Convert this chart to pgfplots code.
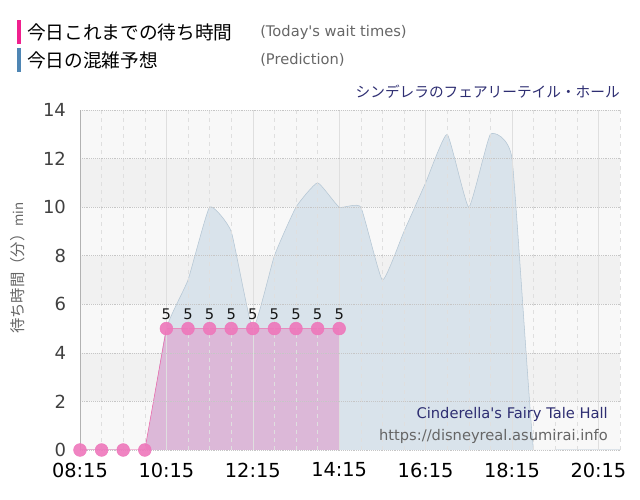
\documentclass[border=0pt]{standalone}
\usepackage{fontspec}
\setmainfont{DejaVu Sans}
\newfontfamily\cjk{Noto Sans CJK JP}
\usepackage{pgfplots}
\pgfplotsset{compat=1.18}

\definecolor{wpink}{HTML}{EE77BB}
\definecolor{wpinkfill}{HTML}{DCB8D8}
\definecolor{wpinkline}{HTML}{EE66AA}
\definecolor{pblue}{HTML}{D9E3EB}
\definecolor{pblueline}{HTML}{B4C6D4}
\definecolor{bandA}{HTML}{F8F8F8}
\definecolor{bandB}{HTML}{F1F1F1}
\definecolor{navy}{HTML}{2E2E72}
\definecolor{legpink}{HTML}{F0208E}
\definecolor{legblue}{HTML}{4F86B4}
\definecolor{txtgray}{HTML}{666666}

\begin{document}
\begin{tikzpicture}[x=0.75pt,y=0.75pt]
\path[use as bounding box] (0,0) rectangle (640,500);

\begin{axis}[
    at={(60pt,37.5pt)}, anchor=south west,
    scale only axis, width=405pt, height=255pt,
    axis on top,
    xmin=8.25, xmax=20.75, ymin=0, ymax=14,
    xtick={8.25,10.25,12.25,14.25,16.25,18.25,20.25},
    xticklabels={08:15,10:15,12:15,14:15,16:15,18:15,20:15},
    minor xtick={8.75,9.25,9.75,10.75,11.25,11.75,12.75,13.25,13.75,14.75,15.25,15.75,16.75,17.25,17.75,18.75,19.25,19.75,20.75},
    ytick={0,2,...,14},
    grid=both,
    major x grid style={gray!25},
    minor x grid style={dashed, gray!25},
    major y grid style={densely dotted, gray!45},
    axis x line*=bottom, axis y line*=left,
    x axis line style={draw=none},
    y axis line style={gray!60},
    tick style={draw=none},
    /pgf/number format/assume math mode=true,
    xticklabel style={font=\fontsize{14.5}{16}\selectfont, text=black, yshift=-6pt},
    yticklabel style={font=\fontsize{13.5}{16}\selectfont, text=black!75, xshift=-7pt},
]
% background bands
\fill[bandA] (axis cs:8.25,0) rectangle (axis cs:20.75,14);
\fill[bandB] (axis cs:8.25,2) rectangle (axis cs:20.75,4);
\fill[bandB] (axis cs:8.25,6) rectangle (axis cs:20.75,8);
\fill[bandB] (axis cs:8.25,10) rectangle (axis cs:20.75,12);

% prediction
\addplot[draw=none, fill=pblue, smooth, tension=0.25] coordinates {
(8.25,0) (8.75,0) (9.25,0) (9.75,0) (10.25,5) (10.75,7) (11.25,10) (11.75,9)
(12.25,5) (12.75,8) (13.25,10) (13.75,11) (14.25,10) (14.75,10) (15.25,7)
(15.75,9) (16.25,11) (16.75,13) (17.25,10) (17.75,13) (18.25,12) (18.75,0)
(19.25,0) (19.75,0) (20.25,0) (20.75,0)} \closedcycle;
\addplot[pblueline, thin, smooth, tension=0.25] coordinates {
(8.25,0) (8.75,0) (9.25,0) (9.75,0) (10.25,5) (10.75,7) (11.25,10) (11.75,9)
(12.25,5) (12.75,8) (13.25,10) (13.75,11) (14.25,10) (14.75,10) (15.25,7)
(15.75,9) (16.25,11) (16.75,13) (17.25,10) (17.75,13) (18.25,12) (18.75,0)
(19.25,0) (19.75,0) (20.25,0) (20.75,0)};

% today's wait times
\addplot[draw=none, fill=wpinkfill] coordinates {
(8.25,0) (8.75,0) (9.25,0) (9.75,0) (10.25,5) (10.75,5) (11.25,5) (11.75,5)
(12.25,5) (12.75,5) (13.25,5) (13.75,5) (14.25,5)} \closedcycle;
\addplot[wpinkline, thin] coordinates {
(8.25,0) (8.75,0) (9.25,0) (9.75,0) (10.25,5) (10.75,5) (11.25,5) (11.75,5)
(12.25,5) (12.75,5) (13.25,5) (13.75,5) (14.25,5)};
\addplot[only marks, color=wpink, mark=*, mark size=4.8pt, mark options={draw=wpink, fill=wpink, opacity=0.9}]
coordinates {(8.25,0) (8.75,0) (9.25,0) (9.75,0)};
\addplot[only marks, color=wpink, mark=*, mark size=4.8pt, mark options={draw=wpink, fill=wpink, opacity=0.9},
    nodes near coords, point meta=y,
    nodes near coords style={font=\fontsize{11}{13}\selectfont, text=black, anchor=south, yshift=3pt}]
coordinates {(10.25,5) (10.75,5) (11.25,5) (11.75,5) (12.25,5) (12.75,5) (13.25,5) (13.75,5) (14.25,5)};
\end{axis}

% legend
\fill[legpink] (17,480) rectangle (21,456);
\fill[legblue] (17,452) rectangle (21,428);
\node[anchor=west, inner sep=0] at (27,468) {\cjk\fontsize{14}{16}\selectfont 今日これまでの待ち時間};
\node[anchor=west, inner sep=0] at (27,440) {\cjk\fontsize{14}{16}\selectfont 今日の混雑予想};
\node[anchor=west, inner sep=0, text=txtgray] at (260,468) {\fontsize{11}{13}\selectfont (Today\textquotesingle s wait times)};
\node[anchor=west, inner sep=0, text=txtgray] at (260,440) {\fontsize{11}{13}\selectfont (Prediction)};
% titles
\node[anchor=east, inner sep=0, text=navy] at (620,408) {\cjk\fontsize{11}{13}\selectfont シンデレラのフェアリーテイル・ホール};
\node[anchor=east, inner sep=0, text=navy] at (608,86) {\fontsize{11}{13}\selectfont Cinderella\textquotesingle s Fairy Tale Hall};
\node[anchor=east, inner sep=0, text=txtgray] at (608,64) {\fontsize{11}{13}\selectfont https://disneyreal.asumirai.info};
% y label
\node[rotate=90, inner sep=0, text=txtgray] at (18,232) {\cjk\fontsize{11.5}{14}\selectfont 待ち時間（分）\fontsize{10}{12}\selectfont min};
\end{tikzpicture}
\end{document}
